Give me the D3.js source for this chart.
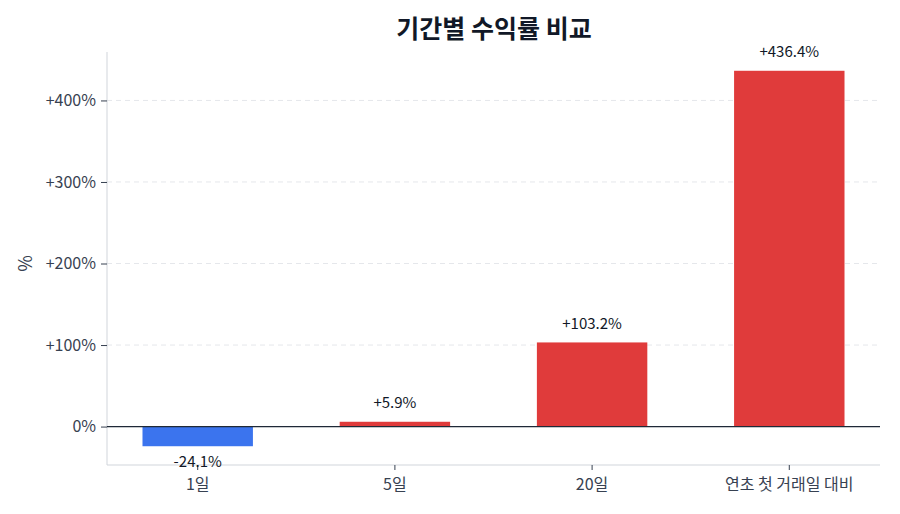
<!DOCTYPE html>
<html>
<head>
<meta charset="utf-8">
<script src="https://cdn.jsdelivr.net/npm/d3@7"></script>
<style>
  body { margin: 0; background: #fff; }
  svg text { font-family: "Noto Sans CJK KR", "Noto Sans", sans-serif; }
</style>
</head>
<body>
<div id="chart"></div>
<script>
const categories = ["1일", "5일", "20일", "연초 첫 거래일 대비"];
const returns = [-24.1, 5.9, 103.2, 436.4];
const yTicks = [0, 100, 200, 300, 400];

const W = 900, H = 514;
const margin = { top: 52, right: 20, bottom: 49, left: 107 };
const width = W - margin.left - margin.right;
const height = H - margin.top - margin.bottom;

const svg = d3.select("#chart").append("svg")
  .attr("width", W).attr("height", H);

svg.append("text")
  .attr("x", 494).attr("y", 38)
  .attr("text-anchor", "middle")
  .style("font-size", "25px").style("font-weight", "700")
  .style("fill", "#111827")
  .text("기간별 수익률 비교");

const g = svg.append("g").attr("transform", `translate(${margin.left},${margin.top})`);

const lo = d3.min(returns), hi = d3.max(returns);
const pad = (hi - lo) * 0.05;
const y = d3.scaleLinear().domain([lo - pad, hi + pad]).range([height, 0]);
const x = d3.scaleBand().domain(categories).range([0, width])
  .paddingInner(0.44).paddingOuter(0.18);

// grid
g.append("g").selectAll("line").data(yTicks.filter(d => d !== 0)).join("line")
  .attr("x1", 0).attr("x2", width)
  .attr("y1", d => y(d)).attr("y2", d => y(d))
  .attr("stroke", "#e5e7eb").attr("stroke-dasharray", "5,4");

// y axis
const yAxis = g.append("g")
  .call(d3.axisLeft(y).tickValues(yTicks).tickSize(6).tickPadding(5)
    .tickFormat(d => (d > 0 ? "+" : "") + d + "%"));
yAxis.select(".domain").attr("stroke", "#d1d5db").attr("d", `M0,0V${height}`);
yAxis.selectAll(".tick line").attr("stroke", "#374151");
yAxis.selectAll("text").style("font-size", "16px").style("fill", "#374151");

// x axis
const xAxis = g.append("g").attr("transform", `translate(0,${height})`)
  .call(d3.axisBottom(x).tickSize(5).tickPadding(9));
xAxis.select(".domain").attr("stroke", "#d1d5db").attr("d", `M0,0H${width}`);
xAxis.selectAll(".tick line").attr("stroke", "#374151");
xAxis.selectAll("text").style("font-size", "16px").style("fill", "#374151");

svg.append("text")
  .attr("transform", `translate(32,${margin.top + y(200)}) rotate(-90)`)
  .attr("text-anchor", "middle")
  .style("font-size", "18px").style("fill", "#374151")
  .text("%");

// bars
g.selectAll(".bar").data(returns).join("rect")
  .attr("class", "bar")
  .attr("x", (d, i) => x(categories[i]))
  .attr("width", x.bandwidth())
  .attr("y", d => y(Math.max(0, d)))
  .attr("height", d => Math.abs(y(d) - y(0)))
  .attr("fill", d => d < 0 ? "#3b74ee" : "#e03b3b");

// zero line
g.append("line")
  .attr("x1", 0).attr("x2", width)
  .attr("y1", y(0)).attr("y2", y(0))
  .attr("stroke", "#1f2937").attr("stroke-width", 1.3);

// value labels
g.selectAll(".val").data(returns).join("text")
  .attr("class", "val")
  .attr("x", (d, i) => x(categories[i]) + x.bandwidth() / 2)
  .attr("y", d => d < 0 ? y(d) + 16 : y(d) - 19)
  .attr("dy", "0.35em")
  .attr("text-anchor", "middle")
  .style("font-size", "15px").style("fill", "#111827")
  .text(d => (d > 0 ? "+" : "") + d.toFixed(1) + "%");
</script>
</body>
</html>
